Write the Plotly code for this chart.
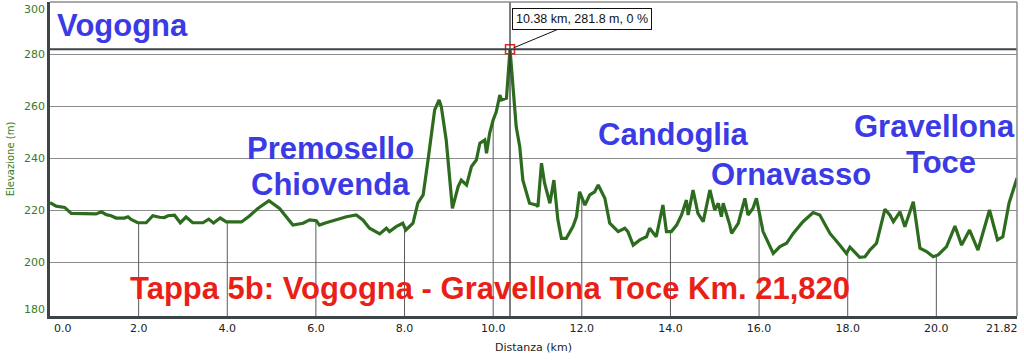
import numpy as np
import plotly.graph_objects as go

# ---- data ----
distance_km = [0, 0.14, 0.33, 0.48, 1.04, 1.16, 1.27, 1.38, 1.49, 1.68, 1.76, 1.83, 1.98, 2.17, 2.32,
               2.47, 2.58, 2.66, 2.81, 2.94, 3.07, 3.22, 3.45, 3.58, 3.69, 3.84, 3.98, 4.32, 4.50, 4.69,
               4.94, 5.18, 5.33, 5.48, 5.71, 5.86, 6.01, 6.08, 6.23, 6.46, 6.69, 6.91, 7.06, 7.21, 7.44,
               7.59, 7.66, 7.81, 7.96, 8.03, 8.19, 8.30, 8.42, 8.53, 8.68, 8.78, 8.83, 8.94, 9.08, 9.21,
               9.28, 9.40, 9.51, 9.62, 9.70, 9.81, 9.85, 9.92, 10.00, 10.07, 10.15, 10.19, 10.30, 10.38,
               10.45, 10.52, 10.60, 10.67, 10.82, 10.97, 11.01, 11.09, 11.16, 11.28, 11.37, 11.46, 11.54,
               11.65, 11.80, 11.88, 11.95, 12.07, 12.18, 12.29, 12.37, 12.52, 12.63, 12.82, 12.97, 13.04,
               13.16, 13.31, 13.46, 13.53, 13.68, 13.83, 13.91, 14.02, 14.14, 14.25, 14.36, 14.40, 14.51,
               14.62, 14.74, 14.89, 15.00, 15.08, 15.15, 15.19, 15.34, 15.38, 15.53, 15.68, 15.75, 15.86,
               15.94, 16.09, 16.32, 16.47, 16.62, 16.77, 16.99, 17.22, 17.37, 17.60, 17.82, 17.97, 18.05,
               18.27, 18.39, 18.50, 18.65, 18.76, 18.84, 18.95, 19.03, 19.18, 19.29, 19.48, 19.63, 19.78,
               19.93, 20.04, 20.23, 20.42, 20.57, 20.75, 20.94, 21.20, 21.38, 21.50, 21.64, 21.82]
elevation_m = [222.8, 221.5, 221.0, 218.7, 218.5, 219.3, 218.2, 217.8, 216.9, 216.9, 217.4, 216.4, 215.1,
               215.1, 217.8, 217.2, 217.1, 217.8, 218.0, 215.1, 217.3, 215.1, 215.1, 216.5, 215.0, 216.9,
               215.4, 215.4, 217.7, 220.6, 223.6, 220.6, 217.4, 214.2, 214.9, 216.2, 215.9, 214.2, 215.1,
               216.4, 217.4, 218.1, 216.2, 213.0, 210.8, 213.0, 211.7, 213.6, 214.9, 212.3, 214.9, 222.6,
               225.8, 239.2, 258.5, 262.3, 259.7, 246.9, 220.6, 229.0, 231.5, 229.6, 236.7, 239.2, 245.7,
               246.9, 241.8, 249.5, 254.6, 257.8, 264.2, 262.3, 263.0, 281.8, 266.2, 252.0, 244.3, 231.5,
               222.6, 221.9, 221.3, 238.0, 230.3, 222.6, 231.5, 216.2, 209.1, 209.1, 213.6, 217.4, 227.0,
               221.9, 225.8, 227.0, 229.6, 224.5, 214.9, 211.7, 213.0, 211.7, 206.5, 208.5, 209.7, 213.0,
               209.7, 221.9, 211.7, 211.7, 214.2, 218.1, 223.8, 218.1, 227.7, 218.7, 215.5, 227.7, 220.0,
               222.6, 217.4, 222.6, 214.2, 211.0, 214.9, 224.5, 218.1, 220.6, 224.5, 211.7, 203.3, 205.9,
               207.2, 211.0, 215.5, 219.0, 218.1, 211.0, 206.5, 203.3, 205.7, 201.8, 202.0, 204.6, 207.2,
               214.9, 220.3, 218.1, 215.5, 219.3, 213.6, 223.2, 205.3, 204.0, 202.0, 202.7, 205.9, 213.8,
               206.5, 212.3, 204.6, 220.0, 208.5, 209.7, 222.6, 232.2]

x_tickvals = [0, 2, 4, 6, 8, 10, 12, 14, 16, 18, 20, 21.82]
x_ticktext = ["0.0", "2.0", "4.0", "6.0", "8.0", "10.0", "12.0", "14.0", "16.0", "18.0", "20.0", "21.82"]
y_tickvals = [200, 220, 240, 260, 280]
y_edge_labels = [180, 300]

place_labels = ["Vogogna", "Premosello", "Chiovenda", "Candoglia", "Ornavasso", "Gravellona", "Toce"]
title_text = "Tappa 5b: Vogogna - Gravellona Toce Km. 21,820"
x_title = "Distanza (km)"
y_title = "Elevazione (m)"

# ---- layout geometry ----
W, H = 1024, 364
ML, MR, MT, MB = 50, 7, 2, 48
Y_MIN, Y_MAX = 179.23, 300
X_MIN, X_MAX = 0, 21.82

def px(x):
    return (x - ML) / (W - ML - MR)

def py(y):
    return (H - MB - y) / (H - MT - MB)

GREEN = "#2d6c1f"
BLUE = "#3b3be6"
RED = "#ea1f18"
AXIS_DARK = "#3d4549"
TICK_GREEN = "#3a7a2a"
TICK_FONT = dict(family="DejaVu Sans", size=11, color="#222")

dist = np.array(distance_km)
elev = np.array(elevation_m)
ipk = int(np.argmax(elev))
pk_x, pk_y = dist[ipk], elev[ipk]

fig = go.Figure()

# vertical grid segments from axis up to the profile
vx, vy = [], []
for t in x_tickvals[1:-1]:
    vx += [t, t, None]
    vy += [Y_MIN, float(np.interp(t, dist, elev)), None]
fig.add_trace(go.Scatter(x=vx, y=vy, mode="lines", line=dict(color="#555b5f", width=1),
                         hoverinfo="skip", showlegend=False))

fig.add_trace(go.Scatter(x=distance_km, y=elevation_m, mode="lines",
                         line=dict(color=GREEN, width=3.2, shape="linear"),
                         hoverinfo="skip", showlegend=False))

fig.add_trace(go.Scatter(x=[pk_x], y=[pk_y], mode="markers",
                         marker=dict(symbol="square-open", size=9, color="#e8241c",
                                     line=dict(width=1.5, color="#e8241c")),
                         hoverinfo="skip", showlegend=False))

shapes = [
    # crosshair
    dict(type="line", xref="x", yref="paper", x0=pk_x, x1=pk_x, y0=0, y1=1,
         line=dict(color="#33393d", width=1.3), layer="above"),
    dict(type="line", xref="paper", yref="y", x0=0, x1=1, y0=pk_y, y1=pk_y,
         line=dict(color="#3d4549", width=2), layer="above"),
    # top and right borders
    dict(type="line", xref="paper", yref="paper", x0=0, x1=1, y0=1, y1=1,
         line=dict(color="#8c8c8c", width=1.5)),
    dict(type="line", xref="paper", yref="paper", x0=1, x1=1, y0=0, y1=1,
         line=dict(color="#8c8c8c", width=1.5)),
]

FS = 31
label_font = dict(family="Liberation Sans, Arial, sans-serif", size=FS, color=BLUE)
label_pos = {  # (center x px, center y px)
    "Vogogna": (122, 26),
    "Premosello": (330, 148),
    "Chiovenda": (330, 184),
    "Candoglia": (673, 134),
    "Ornavasso": (791, 174),
    "Gravellona": (934, 126),
    "Toce": (941, 162),
}
annotations = []
for name in place_labels:
    cx, cy = label_pos[name]
    annotations.append(dict(text="<b>%s</b>" % name, xref="paper", yref="paper",
                            x=px(cx), y=py(cy), xanchor="center", yanchor="middle",
                            showarrow=False, font=label_font))
annotations.append(dict(text="<b>%s</b>" % title_text, xref="paper", yref="paper",
                        x=px(490), y=py(288), xanchor="center", yanchor="middle",
                        showarrow=False,
                        font=dict(family="Liberation Sans, Arial, sans-serif", size=FS, color=RED)))

# edge tick labels (shifted inside like the original)
annotations.append(dict(text=str(y_edge_labels[1]), xref="paper", yref="y", x=0, y=y_edge_labels[1],
                        xanchor="right", yanchor="middle", xshift=-3, yshift=-7, showarrow=False,
                        font=dict(family="DejaVu Sans", size=11, color=TICK_GREEN)))
annotations.append(dict(text=str(y_edge_labels[0]), xref="paper", yref="y", x=0, y=y_edge_labels[0],
                        xanchor="right", yanchor="middle", xshift=-3, yshift=5, showarrow=False,
                        font=dict(family="DejaVu Sans", size=11, color=TICK_GREEN)))
annotations.append(dict(text=x_ticktext[0], xref="x", yref="paper", x=x_tickvals[0], y=0,
                        xanchor="left", yanchor="top", xshift=2, yshift=-4, showarrow=False,
                        font=TICK_FONT))
annotations.append(dict(text=x_ticktext[-1], xref="x", yref="paper", x=x_tickvals[-1], y=0,
                        xanchor="right", yanchor="top", xshift=3, yshift=-4, showarrow=False,
                        font=TICK_FONT))

# tooltip box
annotations.append(dict(text="%.2f km, %.1f m, 0 %%" % (pk_x, pk_y), x=pk_x, y=pk_y,
                        xref="x", yref="y", showarrow=True, ax=72, ay=-30,
                        arrowhead=0, arrowwidth=1, arrowcolor="#111", standoff=4,
                        bgcolor="white", bordercolor="#111", borderwidth=1, borderpad=3,
                        font=dict(family="Liberation Sans, Arial, sans-serif", size=12.5, color="#111")))

fig.update_layout(
    width=W, height=H,
    margin=dict(l=ML, r=MR, t=MT, b=MB, autoexpand=False),
    paper_bgcolor="white", plot_bgcolor="white",
    shapes=shapes, annotations=annotations,
    xaxis=dict(range=[X_MIN, X_MAX], tickvals=x_tickvals[1:-1], ticktext=x_ticktext[1:-1],
               automargin=False,
               showgrid=False, zeroline=False, showline=True, linecolor=AXIS_DARK, linewidth=3,
               ticks="", tickfont=TICK_FONT,
               title=dict(text=x_title, font=dict(family="DejaVu Sans", size=11, color="#222"),
                          standoff=10)),
    yaxis=dict(range=[Y_MIN, Y_MAX], tickvals=y_tickvals, ticktext=[str(v) for v in y_tickvals],
               automargin=False,
               showgrid=True, gridcolor="#8c8c8c", gridwidth=1.2, zeroline=False,
               showline=True, linecolor=AXIS_DARK, linewidth=2.5,
               ticks="", tickfont=dict(family="DejaVu Sans", size=11, color=TICK_GREEN),
               title=dict(text=y_title, font=dict(family="DejaVu Sans", size=10, color=TICK_GREEN),
                          standoff=8)),
)

fig.write_html("out.html", config={"displayModeBar": False},
               post_script="document.body.style.margin='0';")
